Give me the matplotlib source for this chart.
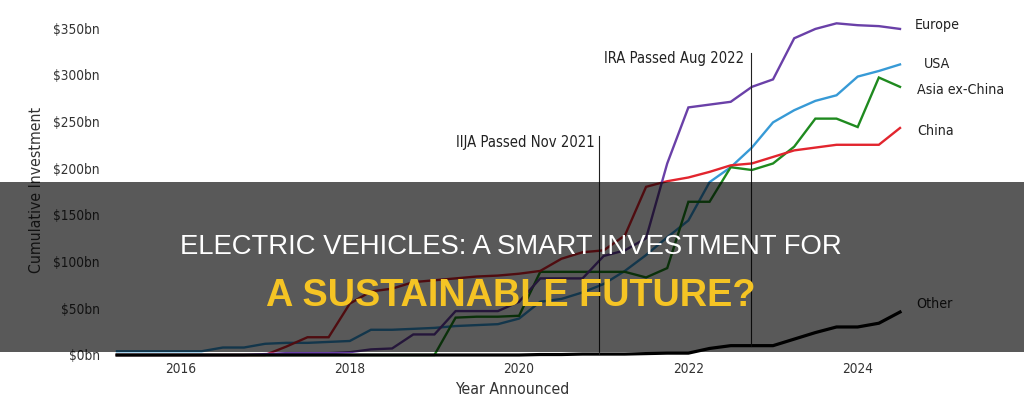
import matplotlib
matplotlib.use("Agg")
import matplotlib.pyplot as plt
from matplotlib.patches import Rectangle
import numpy as np

# ---------------- data ----------------
quarters = ["2015Q2", "2015Q3", "2015Q4",
            "2016Q1", "2016Q2", "2016Q3", "2016Q4",
            "2017Q1", "2017Q2", "2017Q3", "2017Q4",
            "2018Q1", "2018Q2", "2018Q3", "2018Q4",
            "2019Q1", "2019Q2", "2019Q3", "2019Q4",
            "2020Q1", "2020Q2", "2020Q3", "2020Q4",
            "2021Q1", "2021Q2", "2021Q3", "2021Q4",
            "2022Q1", "2022Q2", "2022Q3", "2022Q4",
            "2023Q1", "2023Q2", "2023Q3", "2023Q4",
            "2024Q1", "2024Q2", "2024Q3"]

europe = [0, 0, 0, 0, 0, 0, 0, 1, 2, 2, 2, 3, 6, 7, 22, 22, 47, 47, 47, 57,
          82, 82, 82, 106, 112, 125, 205, 265, 268, 271, 287, 295, 339, 349,
          355, 353, 352, 349]
usa = [4, 4, 4, 4, 4, 8, 8, 12, 13, 13, 14, 15, 27, 27, 28, 29, 31, 32, 33, 39,
       57, 60, 67, 76, 90, 107, 126, 144, 185, 201, 222, 249, 262, 272, 278,
       298, 304, 311]
asia_ex_china = [0, 0, 0, 0, 0, 0, 0, 0, 0, 0, 0, 0, 0, 0, 0, 0, 40, 41, 41, 42,
                 89, 89, 89, 89, 89, 83, 93, 164, 164, 201, 198, 205, 223, 253,
                 253, 244, 297, 287]
china = [0, 0, 0, 0, 0, 0, 0, 0, 9, 19, 19, 55, 68, 71, 78, 80, 82, 84, 85, 87,
         90, 103, 110, 112, 128, 180, 186, 190, 196, 203, 205, 212, 219, 222,
         225, 225, 225, 243]
other = [0, 0, 0, 0, 0, 0, 0, 0, 0, 0, 0, 0, 0, 0, 0, 0, 0, 0, 0, 0,
         0.5, 0.5, 1, 1, 1, 1.5, 2, 2, 7, 10, 10, 10, 17, 24, 30, 30, 34, 46]

series_names = ["Europe", "USA", "Asia ex-China", "China", "Other"]

event_labels = ["IIJA Passed Nov 2021", "IRA Passed Aug 2022"]
event_x = [2020.94, 2022.74]
event_top = [234, 323]

year_ticks = [2016, 2018, 2020, 2022, 2024]
year_labels = ["2016", "2018", "2020", "2022", "2024"]
value_ticks = [0, 50, 100, 150, 200, 250, 300, 350]
value_labels = ["$0bn", "$50bn", "$100bn", "$150bn", "$200bn", "$250bn",
                "$300bn", "$350bn"]

title_line1 = "ELECTRIC VEHICLES: A SMART INVESTMENT FOR"
title_line2 = "A SUSTAINABLE FUTURE?"

# ---------------- style ----------------
plt.rcParams['font.family'] = ['DejaVu Sans']
plt.rcParams['font.stretch'] = 'condensed'

W, H = 1024, 413
fig = plt.figure(figsize=(W / 100, H / 100), dpi=100)
fig.patch.set_facecolor("white")

# axes placed by pixel box: left 110, right 915, top 15, bottom 360
L, R, T, B = 110, 915, 15, 360
ax = fig.add_axes([L / W, (H - B) / H, (R - L) / W, (B - T) / H])
ax.set_facecolor("none")

xq = [int(q[:4]) + (int(q[-1]) - 1) / 4 for q in quarters]

px_per_year = 84.65
x0_px = 117
ax.set_xlim(2015.25 + (L - x0_px) / px_per_year, 2015.25 + (R - x0_px) / px_per_year)
px_per_bn = 327 / 350
ax.set_ylim((355 - B) / px_per_bn, (355 - T) / px_per_bn)

colors = {"Europe": "#6a40a8", "USA": "#379ad6", "Asia ex-China": "#1f8a1f",
          "China": "#e2252e", "Other": "#000000"}
data = {"Europe": europe, "USA": usa, "Asia ex-China": asia_ex_china,
        "China": china, "Other": other}

for name in ["USA", "Asia ex-China", "China", "Europe"]:
    ax.plot(xq, data[name], color=colors[name], lw=1.7, clip_on=False,
            solid_joinstyle="miter", zorder=3)
ax.plot(xq, other, color=colors["Other"], lw=2.3, clip_on=False, zorder=4)

# event lines
for lab, ex, top in zip(event_labels, event_x, event_top):
    bottom = float(np.interp(ex, xq, other))
    ax.plot([ex, ex], [bottom, top], color="#222222", lw=0.8, zorder=5)

txt_color = "#222222"
# event labels (pixel placed)
fig.text(595 / W, 1 - 146.7 / H, event_labels[0], ha="right", va="baseline",
         fontsize=10.6, color=txt_color)
fig.text(744 / W, 1 - 63 / H, event_labels[1], ha="right", va="baseline",
         fontsize=10.6, color=txt_color)

# series end labels
label_pos = {"Europe": (915, 28.8), "USA": (924, 67.6), "Asia ex-China": (917, 93.6),
             "China": (917, 135.3), "Other": (916, 307.6)}
for name in series_names:
    lx, ly = label_pos[name]
    fig.text(lx / W, 1 - ly / H, name, ha="left", va="baseline",
             fontsize=10.2, color=txt_color)

# ticks
ax.set_xticks(year_ticks)
ax.set_xticklabels(year_labels)
ax.set_yticks(value_ticks)
ax.set_yticklabels(value_labels)
ax.tick_params(axis="both", length=0, labelsize=9.8, labelcolor="#333333")
ax.tick_params(axis="x", pad=1.5)
ax.tick_params(axis="y", pad=7.2)
for s in ax.spines.values():
    s.set_visible(False)

ax.set_xlabel("Year Announced", fontsize=11.3, color="#333333")
ax.xaxis.set_label_coords((512 - L) / (R - L), (B - 382.5) / (B - T))
ax.set_ylabel("Cumulative Investment", fontsize=11.3, color="#333333",
              rotation_mode="default", va="center", ha="center")
ax.yaxis.set_label_coords((37 - L) / (R - L), (B - 190) / (B - T))

# dark banner overlay
fig.add_artist(Rectangle((0, (H - 352) / H), 1, 170 / H, transform=fig.transFigure,
                         facecolor="black", alpha=0.65, edgecolor="none", zorder=10))
fig.text(511 / W, 1 - 254.5 / H, title_line1, ha="center", va="baseline",
         fontsize=19.8, color="white", family="Liberation Sans",
         fontstretch="normal", zorder=11)
fig.text(511 / W, 1 - 306.5 / H, title_line2, ha="center", va="baseline",
         fontsize=27.3, color="#f5c424", family="Liberation Sans",
         fontweight="bold", fontstretch="normal", zorder=11)

fig.savefig("out.png", dpi=100, facecolor="white")
